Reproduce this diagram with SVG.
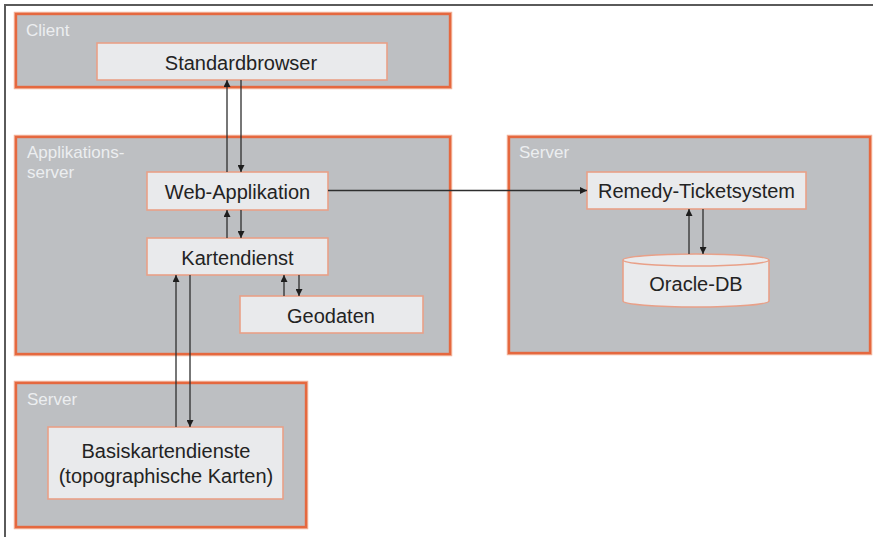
<svg xmlns="http://www.w3.org/2000/svg" width="873" height="537" viewBox="0 0 873 537">
  <style>
    .zone-halo { fill: none; stroke: #F3B49C; stroke-width: 4.5; }
    .zone { fill: #BDBFC2; stroke: #E5683F; stroke-width: 2.4; }
    .zone-label { font-family: "Liberation Sans", Arial, sans-serif; font-size: 17px; fill: #ECEEF0; }
    .node { fill: #E9EAEC; stroke: #E9A088; stroke-width: 1.6; }
    .node-text { font-family: "Liberation Sans", Arial, sans-serif; font-size: 20px; fill: #232323; text-anchor: middle; }
    .link { fill: none; stroke: #2E2E2E; stroke-width: 1.3; marker-end: url(#arrow); }
    .frame { fill: none; stroke: #5A5A5A; stroke-width: 2; }
  </style>
  <defs>
    <marker id="arrow" viewBox="0 0 10 10" refX="10" refY="5" markerWidth="8" markerHeight="7" markerUnits="userSpaceOnUse" orient="auto">
      <path d="M0,0 L10,5 L0,10 Z" fill="#1E1E1E"/>
    </marker>
  </defs>

  <rect width="873" height="537" fill="#FFFFFF"/>
  <!-- page frame: top and left edges -->
  <path class="frame" d="M5,537 V5 H873"/>

  <!-- zones -->
  <g id="zone-client">
    <rect class="zone-halo" x="16" y="14" width="434" height="73"/>
    <rect class="zone" x="16" y="14" width="434" height="73"/>
    <text class="zone-label" x="26" y="36">Client</text>
  </g>
  <g id="zone-appserver">
    <rect class="zone-halo" x="16" y="137" width="434" height="217"/>
    <rect class="zone" x="16" y="137" width="434" height="217"/>
    <text class="zone-label" x="27" y="158">Applikations-</text>
    <text class="zone-label" x="27" y="178">server</text>
  </g>
  <g id="zone-server-right">
    <rect class="zone-halo" x="509" y="137" width="361" height="216"/>
    <rect class="zone" x="509" y="137" width="361" height="216"/>
    <text class="zone-label" x="519" y="158">Server</text>
  </g>
  <g id="zone-server-bottom">
    <rect class="zone-halo" x="16" y="383" width="290" height="144"/>
    <rect class="zone" x="16" y="383" width="290" height="144"/>
    <text class="zone-label" x="27" y="405">Server</text>
  </g>

  <!-- nodes -->
  <g id="standardbrowser">
    <rect class="node" x="97" y="43" width="290" height="37"/>
    <text class="node-text" x="241" y="70">Standardbrowser</text>
  </g>
  <g id="web-applikation">
    <rect class="node" x="147" y="172" width="181" height="38"/>
    <text class="node-text" x="237.5" y="199">Web-Applikation</text>
  </g>
  <g id="kartendienst">
    <rect class="node" x="147" y="238" width="181" height="37"/>
    <text class="node-text" x="237.5" y="265">Kartendienst</text>
  </g>
  <g id="geodaten">
    <rect class="node" x="240" y="296" width="183" height="37"/>
    <text class="node-text" x="331" y="323">Geodaten</text>
  </g>
  <g id="remedy">
    <rect class="node" x="587" y="172" width="219" height="37"/>
    <text class="node-text" x="696.5" y="198">Remedy-Ticketsystem</text>
  </g>
  <g id="oracle-db">
    <path class="node" d="M623,260 V301 A73,6 0 0 0 769,301 V260"/>
    <ellipse class="node" cx="696" cy="260" rx="73" ry="6"/>
    <text class="node-text" x="696" y="291">Oracle-DB</text>
  </g>
  <g id="basiskartendienste">
    <rect class="node" x="48" y="427" width="235" height="72"/>
    <text class="node-text" x="166" y="458">Basiskartendienste</text>
    <text class="node-text" x="166" y="483">(topographische Karten)</text>
  </g>

  <!-- connectors -->
  <g id="connectors">
    <line class="link" x1="227" y1="172" x2="227" y2="80"/>
    <line class="link" x1="241" y1="80" x2="241" y2="172"/>
    <line class="link" x1="227" y1="238" x2="227" y2="210"/>
    <line class="link" x1="241" y1="210" x2="241" y2="238"/>
    <line class="link" x1="284" y1="296" x2="284" y2="275"/>
    <line class="link" x1="299" y1="275" x2="299" y2="296"/>
    <line class="link" x1="176" y1="427" x2="176" y2="275"/>
    <line class="link" x1="190" y1="275" x2="190" y2="427"/>
    <line class="link" x1="328" y1="190.5" x2="587" y2="190.5"/>
    <line class="link" x1="689" y1="254" x2="689" y2="209"/>
    <line class="link" x1="703" y1="209" x2="703" y2="254"/>
  </g>
</svg>
